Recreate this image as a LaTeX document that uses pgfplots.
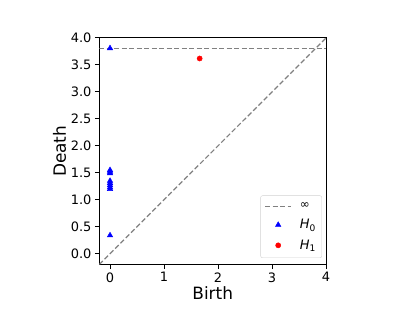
\documentclass[border=0pt]{standalone}
\usepackage{fontspec}
\setmainfont{DejaVu Sans}
\usepackage{pgfplots}
\pgfplotsset{compat=1.18}
\begin{document}
\begin{tikzpicture}
\path (0bp,0bp) rectangle (415bp,311bp);
\begin{axis}[
  at={(99.5bp,46.5bp)}, anchor=south west,
  scale only axis, width=226.5bp, height=226.5bp,
  xmin=-0.195, xmax=4, ymin=-0.2, ymax=4,
  xtick={0,1,2,3,4}, ytick={0,0.5,1,1.5,2,2.5,3,3.5,4},
  yticklabel style={/pgf/number format/.cd, fixed, fixed zerofill, precision=1},
  /pgf/number format/assume math mode=true,
  tick label style={font=\fontsize{13}{15}\selectfont},
  tick align=outside, tick pos=left, major tick length=4.5bp,
  axis line style={line width=1bp},
  every tick/.style={line width=1bp, black},
  xlabel={Birth}, ylabel={Death},
  label style={font=\fontsize{17}{20}\selectfont},
  xlabel style={yshift=3bp},
  ylabel style={yshift=-2bp},
  legend cell align=left,
  legend style={at={(1,0)}, xshift=-4bp, yshift=6.5bp, anchor=south east, rounded corners=2pt,
    draw=black!18, font=\fontsize{13}{15}\selectfont, row sep=5.5bp, column sep=6bp,
    inner xsep=4bp, inner ysep=5bp},
]
\addplot[gray, line width=1.2bp, dash pattern=on 5bp off 2.5bp, forget plot] coordinates {(-0.2,-0.2) (4,4)};
\addplot[gray, line width=1.2bp, dash pattern=on 5bp off 2.5bp,
  legend image code/.code={\draw[gray, line width=1.2bp, dash pattern=on 5bp off 2.5bp] (0bp,0bp) -- (26bp,0bp);}]
  coordinates {(-0.2,3.81) (4,3.81)};
\addlegendentry{\fontsize{12}{13}\selectfont ∞}
\addplot[only marks, mark=triangle*, mark size=3.2bp, blue, mark options={draw=blue, fill=blue},
  legend image code/.code={\draw[opacity=0] (0bp,0bp) -- (26bp,0bp); \draw[mark=triangle*, mark size=3.2bp, draw=blue, fill=blue] plot coordinates {(13bp,0bp)};}]
  coordinates {
(0,3.81) (0,1.55) (0,1.52) (0,1.49) (0,1.35) (0,1.31) (0,1.27) (0,1.23) (0,1.20) (0,0.34)};
\addlegendentry{\textit{H}\textsubscript{0}}
\addplot[only marks, mark=*, mark size=2.6bp, red, mark options={draw=red, fill=red},
  legend image code/.code={\draw[opacity=0] (0bp,0bp) -- (26bp,0bp); \draw[mark=*, mark size=2.6bp, draw=red, fill=red] plot coordinates {(13bp,0bp)};}]
  coordinates {(1.66,3.62)};
\addlegendentry{\textit{H}\textsubscript{1}}
\end{axis}
\end{tikzpicture}
\end{document}
